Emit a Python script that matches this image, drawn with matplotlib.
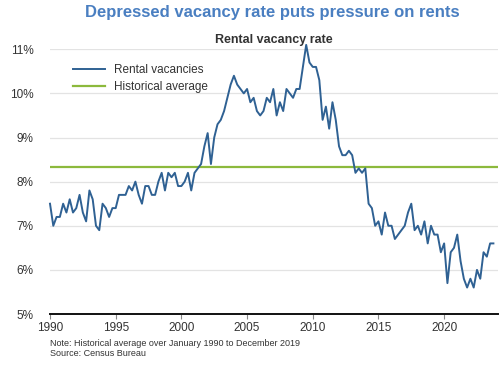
import matplotlib
matplotlib.use("Agg")
import matplotlib.pyplot as plt
import numpy as np

plt.rcParams['font.family'] = ['Liberation Sans', 'DejaVu Sans']

years = list(range(1990, 2024))
vacancy = [
    7.5, 7.0, 7.2, 7.2,   # 1990
    7.5, 7.3, 7.6, 7.3,   # 1991
    7.4, 7.7, 7.3, 7.1,   # 1992
    7.8, 7.6, 7.0, 6.9,   # 1993
    7.5, 7.4, 7.2, 7.4,   # 1994
    7.4, 7.7, 7.7, 7.7,   # 1995
    7.9, 7.8, 8.0, 7.7,   # 1996
    7.5, 7.9, 7.9, 7.7,   # 1997
    7.7, 8.0, 8.2, 7.8,   # 1998
    8.2, 8.1, 8.2, 7.9,   # 1999
    7.9, 8.0, 8.2, 7.8,   # 2000
    8.2, 8.3, 8.4, 8.8,   # 2001
    9.1, 8.4, 9.0, 9.3,   # 2002
    9.4, 9.6, 9.9, 10.2,  # 2003
    10.4, 10.2, 10.1, 10.0,  # 2004
    10.1, 9.8, 9.9, 9.6,  # 2005
    9.5, 9.6, 9.9, 9.8,   # 2006
    10.1, 9.5, 9.8, 9.6,  # 2007
    10.1, 10.0, 9.9, 10.1,  # 2008
    10.1, 10.6, 11.1, 10.7,  # 2009
    10.6, 10.6, 10.3, 9.4,  # 2010
    9.7, 9.2, 9.8, 9.4,   # 2011
    8.8, 8.6, 8.6, 8.7,   # 2012
    8.6, 8.2, 8.3, 8.2,   # 2013
    8.3, 7.5, 7.4, 7.0,   # 2014
    7.1, 6.8, 7.3, 7.0,   # 2015
    7.0, 6.7, 6.8, 6.9,   # 2016
    7.0, 7.3, 7.5, 6.9,   # 2017
    7.0, 6.8, 7.1, 6.6,   # 2018
    7.0, 6.8, 6.8, 6.4,   # 2019
    6.6, 5.7, 6.4, 6.5,   # 2020
    6.8, 6.2, 5.8, 5.6,   # 2021
    5.8, 5.6, 6.0, 5.8,   # 2022
    6.4, 6.3, 6.6, 6.6,   # 2023
]
quarters = [0.0, 0.25, 0.5, 0.75]
dates = [y + q for y in years for q in quarters]
hist_avg = 8.34
y_ticks = [5, 6, 7, 8, 9, 10, 11]
x_ticks = [1990, 1995, 2000, 2005, 2010, 2015, 2020]

fig = plt.figure(figsize=(5, 3.65), dpi=100)
ax = fig.add_axes([0.1, 0.1397, 0.896, 0.7253])

ax.plot(dates, vacancy, color='#2f6193', lw=1.4, label='Rental vacancies', zorder=3,
        clip_on=False)
ax.axhline(hist_avg, color='#8cb93c', lw=1.6, label='Historical average', zorder=2)

ax.set_xlim(1990, 2024.1)
ax.set_ylim(5, 11)
ax.set_yticks(y_ticks)
ax.set_yticklabels([f"{v}%" for v in y_ticks])
ax.set_xticks(x_ticks)
ax.grid(axis='y', color='#e3e3e3', lw=0.9, zorder=0)
ax.set_axisbelow(True)
for s in ['top', 'right', 'left']:
    ax.spines[s].set_visible(False)
ax.spines['bottom'].set_color('#111111')
ax.spines['bottom'].set_linewidth(1.4)
ax.tick_params(axis='y', length=0, pad=12, labelsize=8.5, labelcolor='#333333')
ax.tick_params(axis='x', length=3.5, width=0.8, color='#888888', pad=2,
               labelsize=8.5, labelcolor='#333333')

leg = ax.legend(loc='upper left', bbox_to_anchor=(0.027, 0.985), frameon=False,
                fontsize=8.5, handlelength=2.7, handletextpad=0.8, labelspacing=0.45)
for t in leg.get_texts():
    t.set_color('#333333')

fig.text(0.544, 0.966, 'Depressed vacancy rate puts pressure on rents', ha='center', va='center',
         fontsize=12, fontweight='bold', color='#4a7fc1')
fig.text(0.548, 0.891, 'Rental vacancy rate', ha='center', va='center',
         fontsize=9, fontweight='bold', color='#333333')
fig.text(0.1, 0.060, 'Note: Historical average over January 1990 to December 2019',
         ha='left', va='center', fontsize=6.5, color='#333333')
fig.text(0.1, 0.032, 'Source: Census Bureau', ha='left', va='center', fontsize=6.5, color='#333333')

fig.savefig('out.png', dpi=100)
